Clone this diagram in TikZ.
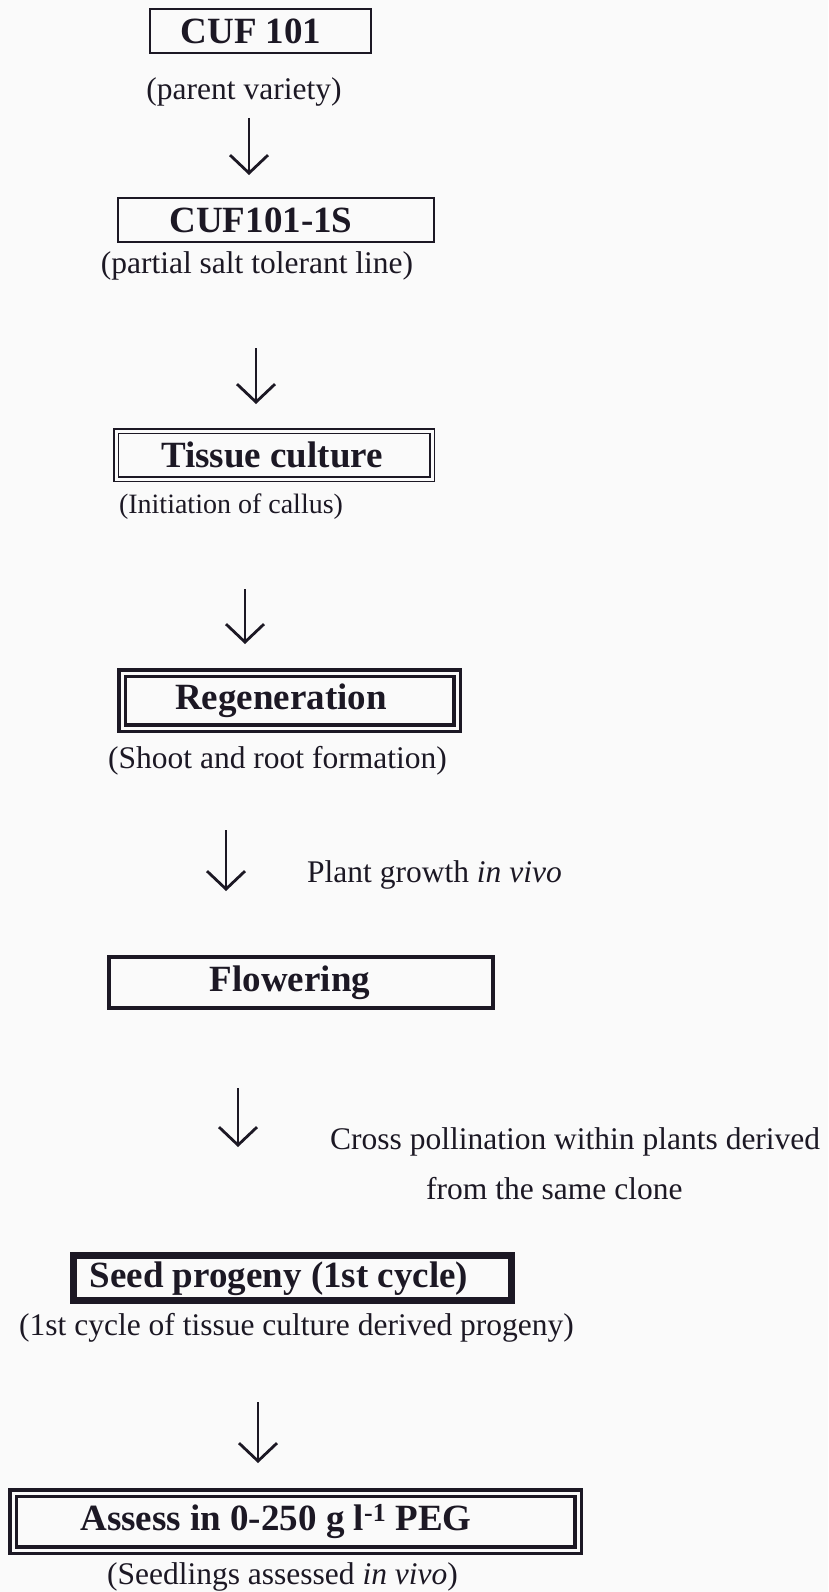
\documentclass[tikz,border=0pt]{standalone}
\usepackage{fontspec}
\setmainfont{Liberation Serif}
\usetikzlibrary{arrows.meta}
\definecolor{ink}{RGB}{28,24,36}
\definecolor{paper}{RGB}{250,250,250}
\begin{document}
\begin{tikzpicture}[x=1pt,y=-1pt,
  every node/.style={text=ink,inner sep=0pt},
  titletxt/.style={font=\fontsize{37}{40}\selectfont\bfseries},
  capt/.style={font=\fontsize{31.5}{36}\selectfont},
  plainbox/.style={titletxt,draw=ink,line width=1.8pt},
  dblthin/.style={titletxt,draw=ink,double=paper,line width=1.5pt,double distance=3pt},
  dblthick/.style={titletxt,draw=ink,double=paper,line width=3.5pt,double distance=3pt},
  heavybox/.style={titletxt,draw=ink,line width=4pt},
  vheavybox/.style={titletxt,draw=ink,line width=7pt},
  flow/.style={draw=ink,line width=2.8pt,-{Straight Barb[length=18pt,width=38pt]}}]
\fill[paper] (0,0) rectangle (828,1592);
\path[use as bounding box] (0,0) rectangle (828,1592);

% boxes
\node[plainbox,minimum width=221pt,minimum height=44pt] (cuf) at (260.5,31) {\hspace*{-19pt}CUF 101};
\node[plainbox,minimum width=316pt,minimum height=44pt] (cufs) at (276,220) {\hspace*{-30pt}CUF101-1S};
\node[dblthin,minimum width=316pt,minimum height=48pt] (tissue) at (274,455) {\hspace*{-4pt}Tissue culture};
\node[dblthick,minimum width=335pt,minimum height=55pt] (regen) at (289.5,700.5) {\hspace*{-17pt}Regeneration};
\node[heavybox,minimum width=384pt,minimum height=51pt] (flower) at (301,982.5) {\hspace*{-22pt}Flowering};
\node[vheavybox,minimum width=438pt,minimum height=45pt,text height=25pt,text depth=6pt] (seed) at (292.5,1278) {\hspace*{-27pt}Seed progeny (1st cycle)};
\node[dblthick,minimum width=565pt,minimum height=57pt] (assess) at (295.5,1521.5) {\hspace*{-39pt}Assess in 0-250 g l\textsuperscript{-1} PEG};

% captions
\node[capt] (cap1) at (244,92) {(parent variety)};
\node[capt] (cap2) at (257,266) {(partial salt tolerant line)};
\node[capt,font=\fontsize{28}{32}\selectfont] (cap3) at (231,507) {(Initiation of callus)};
\node[capt] (cap4) at (277.5,761) {(Shoot and root formation)};
\node[capt,anchor=base west] (plant) at (307,882) {Plant growth \textit{in vivo}};
\node[capt,anchor=base west] (cross1) at (330,1149) {Cross pollination within plants derived};
\node[capt,anchor=base west] (cross2) at (426,1199) {from the same clone};
\node[capt] (cap6) at (296.5,1328) {(1st cycle of tissue culture derived progeny)};
\node[capt] (cap7) at (282.5,1577) {(Seedlings assessed \textit{in vivo})};

% arrows
\coordinate (a1s) at (249,118); \coordinate (a1e) at (249,175);
\coordinate (a2s) at (256,348); \coordinate (a2e) at (256,404);
\coordinate (a3s) at (245,589); \coordinate (a3e) at (245,644);
\coordinate (a4s) at (226,830); \coordinate (a4e) at (226,891);
\coordinate (a5s) at (238,1088); \coordinate (a5e) at (238,1147);
\coordinate (a6s) at (258,1402); \coordinate (a6e) at (258,1463);
\draw[flow] (a1s) -- (a1e);
\draw[flow] (a2s) -- (a2e);
\draw[flow] (a3s) -- (a3e);
\draw[flow] (a4s) -- (a4e);
\draw[flow] (a5s) -- (a5e);
\draw[flow] (a6s) -- (a6e);
\end{tikzpicture}
\end{document}
